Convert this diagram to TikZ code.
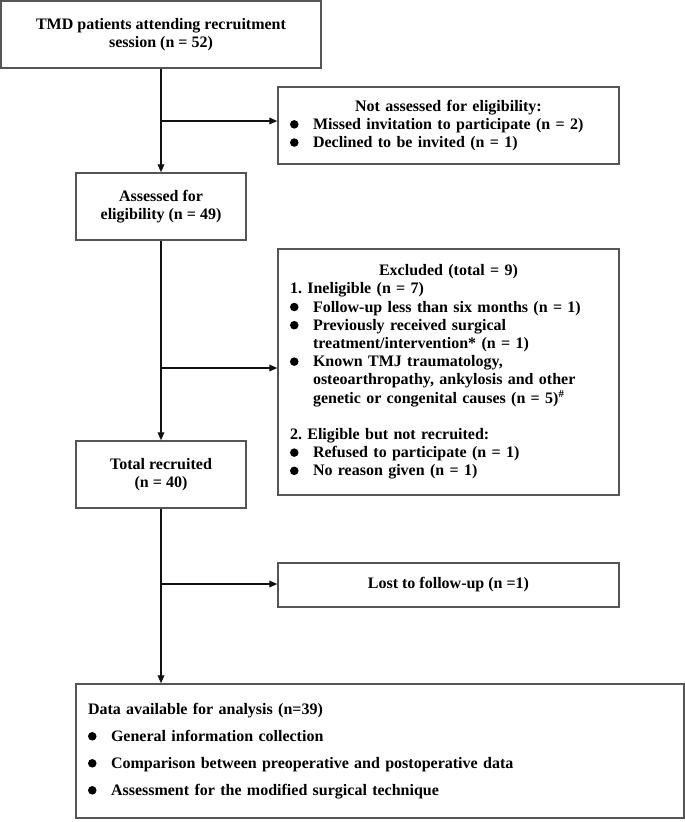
\documentclass[tikz,border=0pt]{standalone}
\usepackage{fontspec}
\setmainfont{Liberation Serif}
\usetikzlibrary{arrows.meta,positioning}
\definecolor{boxline}{HTML}{555555}
\definecolor{ink}{HTML}{111111}
% list lines inside the boxes
\newcommand{\blt}{\par\noindent\makebox[17.25pt][l]{\tikz[baseline=0pt]\fill (3.2pt,3.8pt) circle (3.2pt);}}
\newcommand{\cnt}{\par\noindent\hspace*{17.25pt}}
\frenchspacing
\begin{document}
\begin{tikzpicture}[
    x=0.75pt, y=-0.75pt,
    >={Triangle[length=6pt,width=5pt]},
    box/.style={draw=boxline, line width=1.1pt, inner sep=0pt,
                font=\fontsize{12}{13.65}\selectfont\bfseries},
    link/.style={->, draw=ink, line width=1pt},
  ]
\useasboundingbox (0,0) rectangle (685,822);

% main column
\node[box, minimum width=240pt, minimum height=50.25pt, align=center]
  (recruit) at (161,34.5) {TMD patients attending recruitment\\session (n = 52)};
\node[box, minimum width=127.5pt, minimum height=50.25pt, align=center]
  (assess) at (161,206.5) {Assessed for\\eligibility (n = 49)};
\node[box, minimum width=127.5pt, minimum height=50.25pt, align=center]
  (total) at (161,474.5) {Total recruited\\(n = 40)};
\node[box, minimum width=456pt, minimum height=100.5pt, text width=438pt,
      align=left, font=\fontsize{12}{20.25}\selectfont\bfseries]
  (analysis) at (380,751)
  {Data available for analysis (n=39)
   \blt General information collection
   \blt Comparison between preoperative and postoperative data
   \blt Assessment for the modified surgical technique};

% side boxes
\node[box, minimum width=255.75pt, minimum height=57.75pt, text width=237.75pt,
      align=left] (notassess) at (448.5,125.5)
  {{\centering Not assessed for eligibility:\par}
   \blt Missed invitation to participate (n = 2)
   \blt Declined to be invited (n = 1)};
\node[box, minimum width=255.75pt, minimum height=184.5pt, text width=237.75pt,
      align=left] (excl) at (448.5,372)
  {{\centering Excluded (total = 9)\par}
   \noindent 1. Ineligible (n = 7)
   \blt Follow-up less than six months (n = 1)
   \blt Previously received surgical
   \cnt treatment/intervention* (n = 1)
   \blt Known TMJ traumatology,
   \cnt osteoarthropathy, ankylosis and other
   \cnt genetic or congenital causes (n = 5)\textsuperscript{\#}
   \par\mbox{}
   \par\noindent 2. Eligible but not recruited:
   \blt Refused to participate (n = 1)
   \blt No reason given (n = 1)};
\node[box, minimum width=255.75pt, minimum height=33pt] (lost) at (448.5,585)
  {Lost to follow-up (n =1)};

% branch points on the trunk
\coordinate (b1) at (161,121);
\coordinate (b2) at (161,368);
\coordinate (b3) at (161,584);

% trunk
\draw[link] (recruit.south) -- (assess.north);
\draw[link] (assess.south) -- (total.north);
\draw[link] (total.south) -- (total.south |- analysis.north);

% branches
\draw[link] (b1) -- (b1 -| notassess.west);
\draw[link] (b2) -- (b2 -| excl.west);
\draw[link] (b3) -- (b3 -| lost.west);

\end{tikzpicture}
\end{document}
